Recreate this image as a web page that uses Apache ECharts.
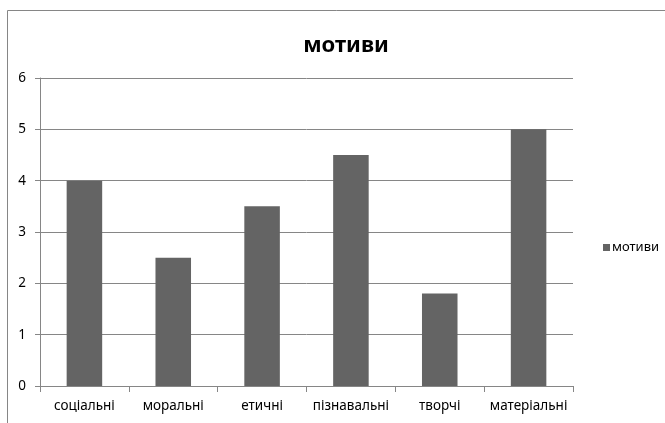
<!DOCTYPE html>
<html><head><meta charset="utf-8">
<script src="https://cdn.jsdelivr.net/npm/echarts@6/dist/echarts.min.js"></script>
<style>html,body{margin:0;padding:0;background:#fff}#c{width:665px;height:423px}</style>
</head><body><div id="c"></div>
<script>
const categories = ['соціальні','моральні','етичні','пізнавальні','творчі','матеріальні'];
const values = [4, 2.5, 3.5, 4.5, 1.8, 5];
const seriesName = 'мотиви';
const titleText = 'мотиви';
const font = 'Noto Sans';
const chart = echarts.init(document.getElementById('c'), null, {renderer:'canvas'});
chart.setOption({
  animation:false,
  backgroundColor:'#fff',
  graphic:[{type:'rect', shape:{x:7.5,y:10.5,width:700,height:500}, style:{fill:'none',stroke:'#868686',lineWidth:1}, silent:true}],
  title:{text:titleText, left:341, top:30, textAlign:'center', textStyle:{fontFamily:font,fontSize:22,fontWeight:'bold',color:'#000'}},
  legend:{show:true, left:598, top:236, orient:'vertical', itemWidth:7, itemHeight:7, itemGap:4, icon:'rect',
    textStyle:{fontFamily:font,fontSize:13,color:'#000',padding:[0,0,0,-3]}, data:[seriesName]},
  grid:{left:40, right:92, top:78, bottom:37, containLabel:false},
  xAxis:{type:'category', data:categories, boundaryGap:true,
    axisLine:{lineStyle:{color:'#868686'}},
    axisTick:{show:true,length:6,lineStyle:{color:'#868686'}},
    axisLabel:{fontFamily:font,fontSize:13.5,color:'#000',margin:13,interval:0}},
  yAxis:{type:'value', min:0, max:6, interval:1,
    axisLine:{show:true,lineStyle:{color:'#868686'}},
    axisTick:{show:true,length:5,lineStyle:{color:'#868686'}},
    splitLine:{lineStyle:{color:'#868686'}},
    axisLabel:{fontFamily:font,fontSize:13.5,color:'#000',margin:14}},
  series:[{name:seriesName, type:'bar', data:values, barWidth:'40%', itemStyle:{color:'#646464'}}]
});
</script></body></html>
